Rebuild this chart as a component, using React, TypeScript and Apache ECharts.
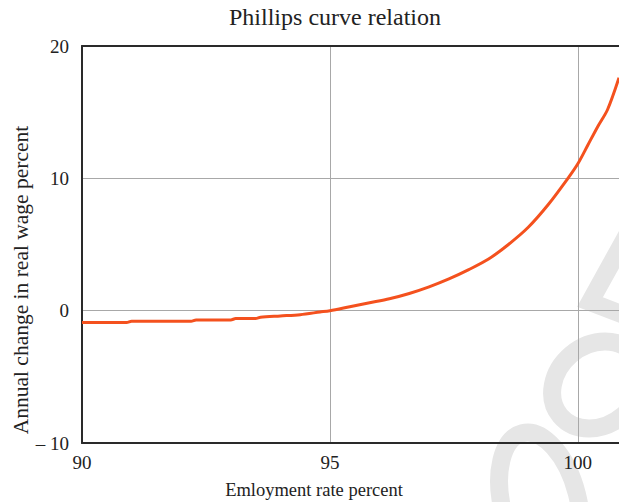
import React, { useEffect, useRef } from "react";
import * as echarts from "echarts";

const employment = [
  90.0, 90.9, 91.0, 92.2, 92.3, 93.0, 93.1, 93.5, 93.6, 94.0, 94.4, 94.8, 95.0,
  95.4, 95.8, 96.2, 96.6, 97.0, 97.4, 97.8, 98.2, 98.6, 99.0, 99.4, 99.8, 100.0,
  100.2, 100.4, 100.6, 100.83,
];
const wageChange = [
  -0.9, -0.9, -0.8, -0.8, -0.7, -0.7, -0.6, -0.6, -0.5, -0.4, -0.3, -0.1, 0.0,
  0.3, 0.6, 0.9, 1.3, 1.8, 2.4, 3.1, 3.9, 5.0, 6.3, 8.0, 10.0, 11.1,
  12.5, 13.9, 15.2, 17.6,
];
const xTicks = [90, 95, 100];
const yTicks = [-10, 0, 10, 20];

const FONT = "Liberation Serif";

export default function App() {
  const ref = useRef<HTMLDivElement>(null);
  useEffect(() => {
    if (!ref.current) return;
    const chart = echarts.init(ref.current, null, { renderer: "svg" });
    const data = employment.map((x, i) => [x, wageChange[i]]);
    const wm = { fill: "none", stroke: "#e6e6e6", lineWidth: 18 };
    chart.setOption({
      animation: false,
      backgroundColor: "#fff",
      grid: { left: 82, right: 0, top: 46, bottom: 59, containLabel: false },
      xAxis: [
        {
          type: "value",
          min: xTicks[0],
          max: 100.83,
          interval: 5,
          position: "bottom",
          axisLine: { show: true, onZero: false, lineStyle: { color: "#2a2a2a", width: 2 } },
          axisTick: { show: false },
          splitLine: { show: true, lineStyle: { color: "#a8a8a8", width: 1 } },
          axisLabel: {
            show: true,
            showMaxLabel: false,
            margin: 10,
            fontFamily: FONT,
            fontSize: 19,
            color: "#222",
          },
        },
        {
          type: "value",
          min: xTicks[0],
          max: 100.83,
          interval: 5,
          position: "top",
          axisLine: { show: true, onZero: false, lineStyle: { color: "#2a2a2a", width: 2 } },
          axisTick: { show: false },
          splitLine: { show: false },
          axisLabel: { show: false },
        },
      ],
      yAxis: {
        type: "value",
        min: yTicks[0],
        max: yTicks[yTicks.length - 1],
        interval: 10,
        axisLine: { show: true, onZero: false, lineStyle: { color: "#2a2a2a", width: 2 } },
        axisTick: { show: false },
        splitLine: { show: true, lineStyle: { color: "#a8a8a8", width: 1 } },
        axisLabel: {
          margin: 13,
          fontFamily: FONT,
          fontSize: 19,
          color: "#222",
          formatter: (v: number) => (v < 0 ? "– " + Math.abs(v) : String(v)),
        },
      },
      graphic: [
        {
          type: "ellipse",
          z: -10,
          x: 540,
          y: 503,
          rotation: 0.25,
          shape: { cx: 0, cy: 0, rx: 38, ry: 72 },
          style: wm,
        },
        {
          type: "ellipse",
          z: -10,
          x: 597,
          y: 385,
          rotation: 0.7,
          shape: { cx: 0, cy: 0, rx: 48, ry: 40 },
          style: wm,
        },
        {
          type: "polyline",
          z: -10,
          shape: { points: [[632, 226], [590, 302], [632, 318]] },
          style: wm,
        },
        {
          type: "text",
          x: 335,
          y: 17,
          style: {
            text: "Phillips curve relation",
            fontFamily: FONT,
            fontSize: 24,
            fill: "#222",
            textAlign: "center",
            textVerticalAlign: "middle",
          },
        },
        {
          type: "text",
          x: 21,
          y: 280,
          rotation: Math.PI / 2,
          style: {
            text: "Annual change in real wage percent",
            fontFamily: FONT,
            fontSize: 21.5,
            fill: "#222",
            textAlign: "center",
            textVerticalAlign: "middle",
          },
        },
        {
          type: "text",
          x: 314,
          y: 490,
          style: {
            text: "Emloyment rate percent",
            fontFamily: FONT,
            fontSize: 18.5,
            fill: "#222",
            textAlign: "center",
            textVerticalAlign: "middle",
          },
        },
      ],
      series: [
        {
          type: "line",
          data,
          xAxisIndex: 0,
          showSymbol: false,
          smooth: 0.3,
          lineStyle: { color: "#f4511e", width: 3 },
          itemStyle: { color: "#f4511e" },
        },
      ],
    });
    return () => chart.dispose();
  }, []);
  return (
    <div
      ref={ref}
      style={{ position: "fixed", left: 0, top: 0, width: 619, height: 502 }}
    />
  );
}
